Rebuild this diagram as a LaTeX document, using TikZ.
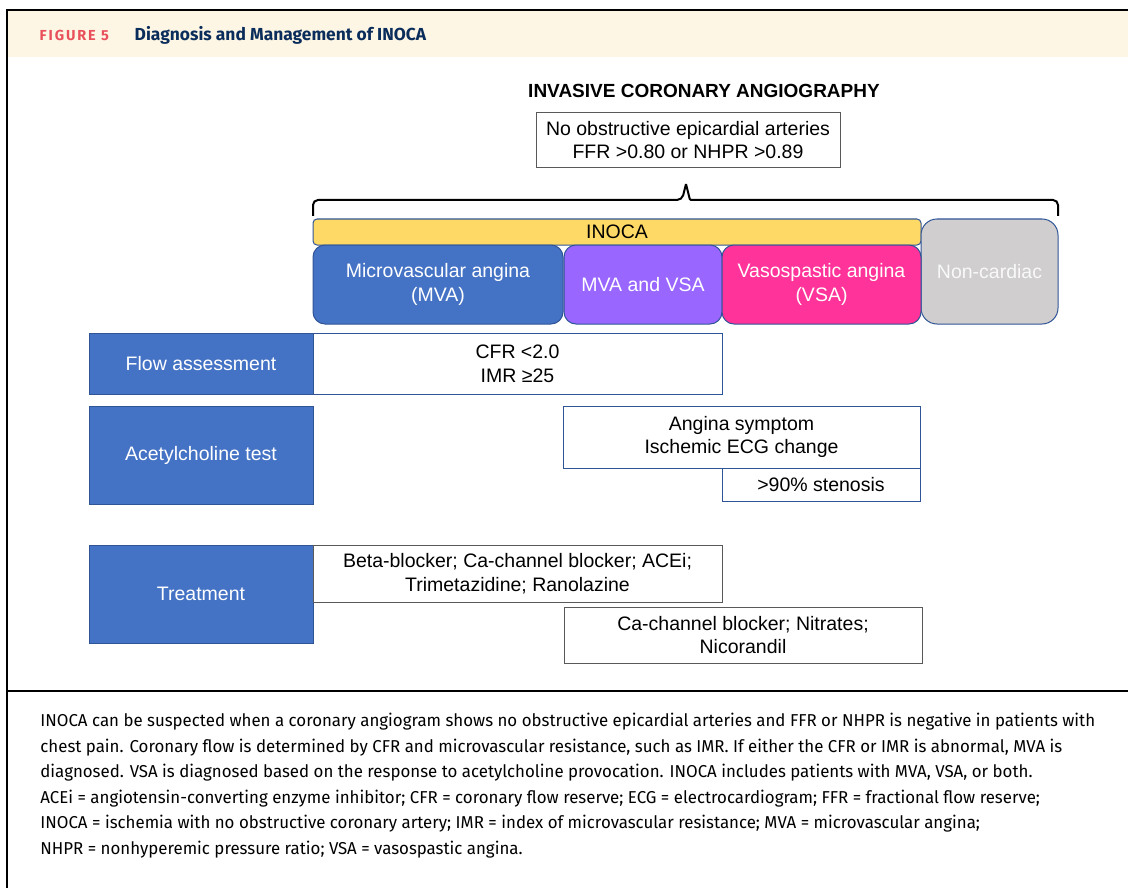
\documentclass[tikz,border=0pt]{standalone}
\usepackage{fontspec}
\setmainfont{Liberation Sans}
\newfontfamily\headfont{Fira Sans}
\newfontfamily\capfont[FakeStretch=0.98]{Fira Sans}
\definecolor{headbg}{HTML}{FEF6E4}
\definecolor{figred}{HTML}{E8505B}
\definecolor{navy}{HTML}{0B2D5B}
\definecolor{mvablue}{HTML}{4472C4}
\definecolor{edgeblue}{HTML}{2F5597}
\definecolor{bothpurple}{HTML}{9966FF}
\definecolor{vsapink}{HTML}{FF3399}
\definecolor{inocayellow}{HTML}{FFD966}
\definecolor{ncgray}{HTML}{D0CECE}
\definecolor{boxgray}{HTML}{595959}
\newcommand{\dfont}{\fontsize{19.5}{23.5}\selectfont}

\begin{document}
\begin{tikzpicture}[x=1pt,y=-1pt,thick,
    type node/.style={rectangle,rounded corners=12pt,draw=edgeblue,line width=1pt,inner sep=0pt,align=center,font=\dfont,text=white},
    label node/.style={rectangle,fill=mvablue,draw=edgeblue,line width=1pt,inner sep=0pt,align=center,font=\dfont,text=white},
    crit node/.style={rectangle,fill=white,draw=edgeblue,line width=1pt,inner sep=0pt,align=center,font=\dfont},
    drug node/.style={rectangle,fill=white,draw=boxgray,line width=1pt,inner sep=0pt,align=center,font=\dfont}]
  \useasboundingbox (0,0) rectangle (1128,888);
  \begin{scope}
    % frame and heading band
    \fill[headbg] (7,10) rectangle (1128,57);
    \draw[line width=2pt] (7,888) -- (7,10) -- (1128,10);
    \draw[line width=2pt] (7,691) -- (1128,691);
    \node[anchor=west,text=figred,font={\headfont\bfseries\fontsize{14.5}{16}\selectfont\addfontfeature{LetterSpace=13}}] (fig) at (36,35) {FIGURE 5};
    \node[anchor=west,text=navy,font={\headfont\bfseries\fontsize{17.4}{20}\selectfont}] (figtitle) at (131,35) {Diagnosis and Management of INOCA};

    \node[font={\bfseries\fontsize{19}{22}\selectfont}] (ica) at (704,91) {INVASIVE CORONARY ANGIOGRAPHY};
    \node[drug node,minimum width=304pt,minimum height=55pt] (noobs) at (688,140) {No obstructive epicardial arteries\\FFR >0.80 or NHPR >0.89};

    \coordinate (bl) at (313,216);
    \coordinate (br) at (1058,216);
    \coordinate (tip) at (686,184);
    \draw[line width=2pt] (bl) [rounded corners=5pt] -- (313,200) -- (682,200) [rounded corners=1pt] -- (tip) -- (690,200) [rounded corners=5pt] -- (1058,200) -- (br);

    \node[type node,rounded corners=4pt,fill=inocayellow,text=black,minimum width=608pt,minimum height=26pt] (inoca) at (617,232) {INOCA};
    \node[type node,rounded corners=16pt,fill=ncgray,text=white!95!gray,minimum width=137pt,minimum height=105pt] (noncard) at (989.5,271.5) {Non-cardiac};
    \node[type node,fill=mvablue,minimum width=250pt,minimum height=79pt] (mva) at (438,284.5) {Microvascular angina\\(MVA)};
    \node[type node,fill=bothpurple,minimum width=158pt,minimum height=79pt] (both) at (643,284.5) {MVA and VSA};
    \node[type node,fill=vsapink,minimum width=199pt,minimum height=79pt] (vsa) at (821.5,284.5) {Vasospastic angina\\(VSA)};

    \node[label node,minimum width=224pt,minimum height=61pt] (flow) at (201,364) {Flow assessment};
    \node[crit node,minimum width=409pt,minimum height=61pt] (flowcrit) at (517.5,364) {CFR <2.0\\IMR ≥25};

    \node[label node,minimum width=224pt,minimum height=98pt] (ach) at (201,455) {Acetylcholine test};
    \node[crit node,minimum width=357pt,minimum height=62pt] (achcrit) at (741.5,437) {Angina symptom\\Ischemic ECG change};
    \node[crit node,minimum width=198pt,minimum height=33pt] (sten) at (821,484.5) {>90\% stenosis};

    \node[label node,minimum width=224pt,minimum height=98pt] (treat) at (201,594) {Treatment};
    \node[drug node,minimum width=409pt,minimum height=57pt] (mvadrug) at (517.5,573.5) {Beta-blocker; Ca-channel blocker; ACEi;\\Trimetazidine; Ranolazine};
    \node[drug node,minimum width=358pt,minimum height=56pt] (vsadrug) at (743,635) {Ca-channel blocker; Nitrates;\\Nicorandil};

    % legend text
    \node[anchor=north west,inner sep=0pt,align=left,font={\capfont\fontsize{17.2}{25.5}\selectfont}] (legend) at (40,713) {INOCA can be suspected when a coronary angiogram shows no obstructive epicardial arteries and FFR or NHPR is negative in patients with\\
chest pain. Coronary flow is determined by CFR and microvascular resistance, such as IMR. If either the CFR or IMR is abnormal, MVA is\\
diagnosed. VSA is diagnosed based on the response to acetylcholine provocation. INOCA includes patients with MVA, VSA, or both.\\
ACEi = angiotensin-converting enzyme inhibitor; CFR = coronary flow reserve; ECG = electrocardiogram; FFR = fractional flow reserve;\\
INOCA = ischemia with no obstructive coronary artery; IMR = index of microvascular resistance; MVA = microvascular angina;\\
NHPR = nonhyperemic pressure ratio; VSA = vasospastic angina.};
  \end{scope}
\end{tikzpicture}
\end{document}
